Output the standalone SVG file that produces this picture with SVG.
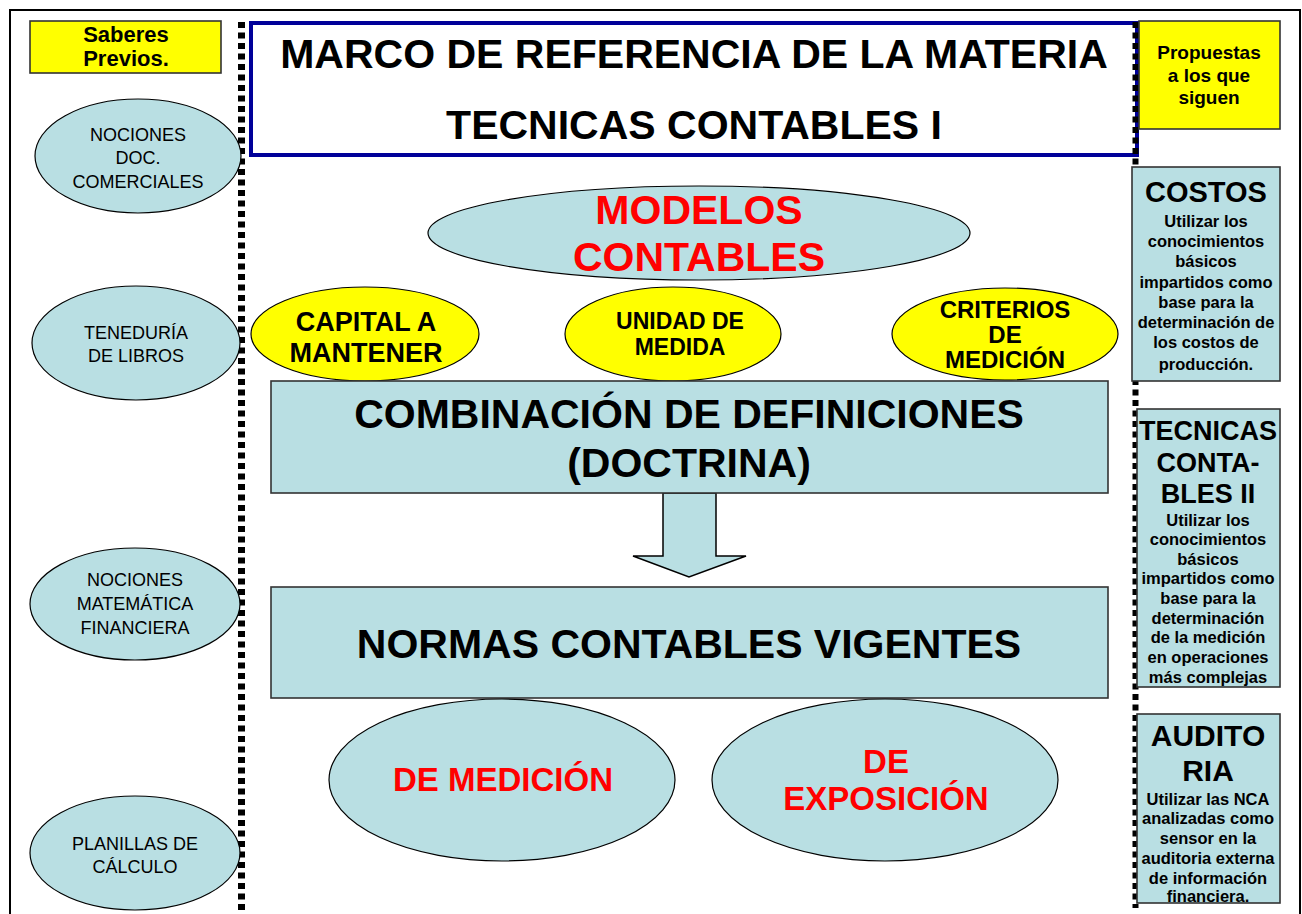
<svg xmlns="http://www.w3.org/2000/svg" width="1302" height="914" viewBox="0 0 1302 914">
<style>
text{font-family:"Liberation Sans",Arial,sans-serif;text-anchor:middle}
.b{font-weight:bold}
.blue{fill:#B9DFE3;stroke:#000;stroke-width:1.2}
.box{fill:#B9DFE3;stroke:#333;stroke-width:1.6}
.yel{fill:#FFFF00;stroke:#000;stroke-width:1.2}
.ybox{fill:#FFFF00;stroke:#333;stroke-width:1.6}
.red{fill:#FF0000}
.dash{stroke:#000;fill:none;stroke-dasharray:6 4.5}
</style>
<rect width="1302" height="914" fill="#fff"/>
<rect x="10" y="10" width="1290" height="912" fill="none" stroke="#000" stroke-width="2"/>

<g id="connectors">
<line class="dash" x1="241.5" y1="22" x2="241.5" y2="910" stroke-width="7"/>
<path d="M663,493 H716 V556 H746 L689,577 L633,556 H663 Z" fill="#B9DFE3" stroke="#000" stroke-width="1.5"/>
</g>

<g id="title">
<rect x="251" y="23" width="886" height="132" fill="#fff" stroke="#000099" stroke-width="4"/>
<text class="b" x="694" y="68" font-size="41">MARCO DE REFERENCIA DE LA MATERIA</text>
<text class="b" x="694" y="139" font-size="41">TECNICAS CONTABLES I</text>
</g>
<line class="dash" x1="1135.5" y1="22" x2="1135.5" y2="908" stroke-width="6"/>

<g id="saberes">
<rect class="ybox" x="30" y="21" width="191" height="52"/>
<text class="b" x="126" y="42" font-size="22">Saberes</text>
<text class="b" x="126" y="66" font-size="22">Previos.</text>
</g>

<g id="propuestas">
<rect class="ybox" x="1139" y="21" width="141" height="108"/>
<text class="b" x="1209" y="59" font-size="19">Propuestas</text>
<text class="b" x="1209" y="82" font-size="19">a los que</text>
<text class="b" x="1209" y="104" font-size="19">siguen</text>
</g>

<g id="nociones-doc">
<ellipse class="blue" cx="138" cy="156" rx="103" ry="57"/>
<text x="138" y="141" font-size="18">NOCIONES</text>
<text x="138" y="164" font-size="18">DOC.</text>
<text x="138" y="188" font-size="18">COMERCIALES</text>
</g>
<g id="teneduria">
<ellipse class="blue" cx="136" cy="343" rx="104" ry="57"/>
<text x="136" y="339" font-size="18">TENEDURÍA</text>
<text x="136" y="362" font-size="18">DE LIBROS</text>
</g>
<g id="nociones-mat">
<ellipse class="blue" cx="135" cy="604" rx="105" ry="56"/>
<text x="135" y="586" font-size="18">NOCIONES</text>
<text x="135" y="610" font-size="18">MATEMÁTICA</text>
<text x="135" y="634" font-size="18">FINANCIERA</text>
</g>
<g id="planillas">
<ellipse class="blue" cx="135" cy="853" rx="105" ry="57"/>
<text x="135" y="850" font-size="18">PLANILLAS DE</text>
<text x="135" y="873" font-size="18">CÁLCULO</text>
</g>

<g id="modelos">
<ellipse class="blue" cx="699" cy="233" rx="271" ry="47"/>
<text class="b red" x="699" y="224" font-size="41">MODELOS</text>
<text class="b red" x="699" y="271" font-size="41">CONTABLES</text>
</g>

<g id="capital">
<ellipse class="yel" cx="365" cy="334" rx="114" ry="47"/>
<text class="b" x="366" y="331" font-size="27">CAPITAL A</text>
<text class="b" x="366" y="362" font-size="27">MANTENER</text>
</g>
<g id="unidad">
<ellipse class="yel" cx="673" cy="334" rx="108" ry="47"/>
<text class="b" x="680" y="329" font-size="23">UNIDAD DE</text>
<text class="b" x="680" y="355" font-size="23">MEDIDA</text>
</g>
<g id="criterios">
<ellipse class="yel" cx="1005" cy="334" rx="113" ry="46"/>
<text class="b" x="1005" y="318" font-size="24">CRITERIOS</text>
<text class="b" x="1005" y="343" font-size="24">DE</text>
<text class="b" x="1005" y="368" font-size="24">MEDICIÓN</text>
</g>

<g id="combinacion">
<rect class="box" x="271" y="381" width="837" height="112"/>
<text class="b" x="689" y="428" font-size="41">COMBINACIÓN DE DEFINICIONES</text>
<text class="b" x="689" y="477" font-size="41">(DOCTRINA)</text>
</g>

<g id="normas">
<rect class="box" x="271" y="587" width="837" height="111"/>
<text class="b" x="689" y="658" font-size="41">NORMAS CONTABLES VIGENTES</text>
</g>

<g id="de-medicion">
<ellipse class="blue" cx="502" cy="780" rx="173" ry="81"/>
<text class="b red" x="503" y="791" font-size="33">DE MEDICIÓN</text>
</g>
<g id="de-exposicion">
<ellipse class="blue" cx="885" cy="780" rx="173" ry="81"/>
<text class="b red" x="886" y="773" font-size="33">DE</text>
<text class="b red" x="886" y="810" font-size="33">EXPOSICIÓN</text>
</g>

<g id="costos">
<rect class="box" x="1132" y="167" width="148" height="214"/>
<text class="b" x="1206" y="202" font-size="29">COSTOS</text>
<g class="b" font-size="16.5">
<text x="1206" y="227">Utilizar los</text>
<text x="1206" y="247">conocimientos</text>
<text x="1206" y="267">básicos</text>
<text x="1206" y="288">impartidos como</text>
<text x="1206" y="308">base para la</text>
<text x="1206" y="328">determinación de</text>
<text x="1206" y="348">los costos de</text>
<text x="1206" y="370">producción.</text>
</g>
</g>

<g id="tecnicas2">
<rect class="box" x="1137" y="409" width="143" height="278"/>
<g class="b" font-size="27">
<text x="1208" y="440">TECNICAS</text>
<text x="1208" y="472">CONTA-</text>
<text x="1208" y="503">BLES II</text>
</g>
<g class="b" font-size="16.5">
<text x="1208" y="526">Utilizar los</text>
<text x="1208" y="545">conocimientos</text>
<text x="1208" y="565">básicos</text>
<text x="1208" y="584">impartidos como</text>
<text x="1208" y="604">base para la</text>
<text x="1208" y="624">determinación</text>
<text x="1208" y="643">de la medición</text>
<text x="1208" y="663">en operaciones</text>
<text x="1208" y="683">más complejas</text>
</g>
</g>

<g id="auditoria">
<rect class="box" x="1137" y="714" width="143" height="189"/>
<g class="b" font-size="30">
<text x="1208" y="746">AUDITO</text>
<text x="1208" y="781">RIA</text>
</g>
<g class="b" font-size="16.5">
<text x="1208" y="805">Utilizar las NCA</text>
<text x="1208" y="824">analizadas como</text>
<text x="1208" y="844">sensor en la</text>
<text x="1208" y="864">auditoria externa</text>
<text x="1208" y="884">de información</text>
<text x="1208" y="902">financiera.</text>
</g>
</g>
</svg>
